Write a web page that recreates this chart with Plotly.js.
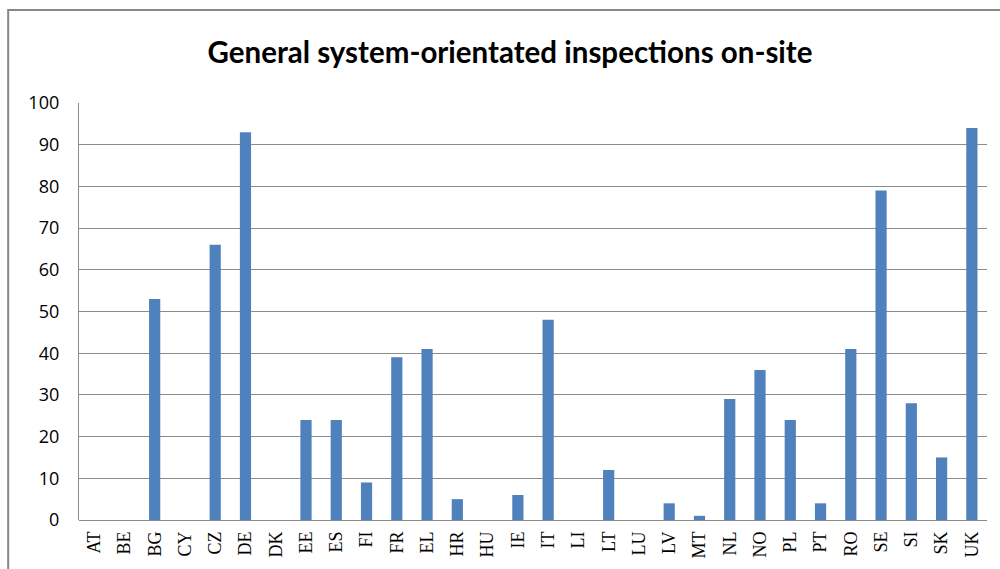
<!DOCTYPE html>
<html>
<head>
<meta charset="utf-8">
<script src="https://cdn.plot.ly/plotly-3.0.1.min.js"></script>
<style>html,body{margin:0;padding:0;background:#fff}#chart{width:1000px;height:569px}</style>
</head>
<body>
<div id="chart"></div>
<script>
const countries = ["AT","BE","BG","CY","CZ","DE","DK","EE","ES","FI","FR","EL","HR","HU","IE","IT","LI","LT","LU","LV","MT","NL","NO","PL","PT","RO","SE","SI","SK","UK"];
const inspections = [0,0,53,0,66,93,0,24,24,9,39,41,5,0,6,48,0,12,0,4,1,29,36,24,4,41,79,28,15,94];
const yTicks = [0,10,20,30,40,50,60,70,80,90,100];
const chartTitle = "General system-orientated inspections on-site";

const trace = {
  type: "bar",
  x: countries,
  y: inspections,
  marker: {color: "#4F81BD", line: {width: 0}},
  hoverinfo: "x+y"
};

const layout = {
  width: 1000, height: 569,
  margin: {l: 79, r: 13, t: 103, b: 49, pad: 0},
  paper_bgcolor: "#fff", plot_bgcolor: "#fff",
  bargap: 0.63,
  showlegend: false,
  title: {
    text: chartTitle,
    font: {family: "Lato, 'Open Sans', sans-serif", size: 29.5, color: "#000", weight: "bold"},
    x: 0.51, xref: "container", xanchor: "center",
    y: 0.907, yref: "container", yanchor: "middle"
  },
  xaxis: {
    type: "category",
    tickangle: -90,
    tickfont: {family: "'Liberation Serif', 'Times New Roman', serif", size: 18, color: "#000"},
    showgrid: false, zeroline: false,
    showline: false, ticks: "",
    ticklabelstandoff: 7,
    fixedrange: true
  },
  yaxis: {
    range: [0, 100],
    tickvals: yTicks,
    ticktext: yTicks.map(String),
    tickfont: {family: "'Open Sans', 'Liberation Sans', sans-serif", size: 18, color: "#000"},
    showgrid: true, gridcolor: "#8c8c8c", gridwidth: 1.3,
    zeroline: true, zerolinecolor: "#8c8c8c", zerolinewidth: 1.3,
    showline: true, linecolor: "#8c8c8c", linewidth: 1.3,
    ticks: "", ticklabelstandoff: 15,
    fixedrange: true
  },
  shapes: [{
    type: "rect", xref: "paper", yref: "paper",
    x0: -0.078, x1: 1.1, y0: -0.3, y1: 1.223,
    line: {color: "#878787", width: 2}, fillcolor: "rgba(0,0,0,0)", layer: "above"
  }]
};

Plotly.newPlot("chart", [trace], layout, {displayModeBar: false});
</script>
</body>
</html>
